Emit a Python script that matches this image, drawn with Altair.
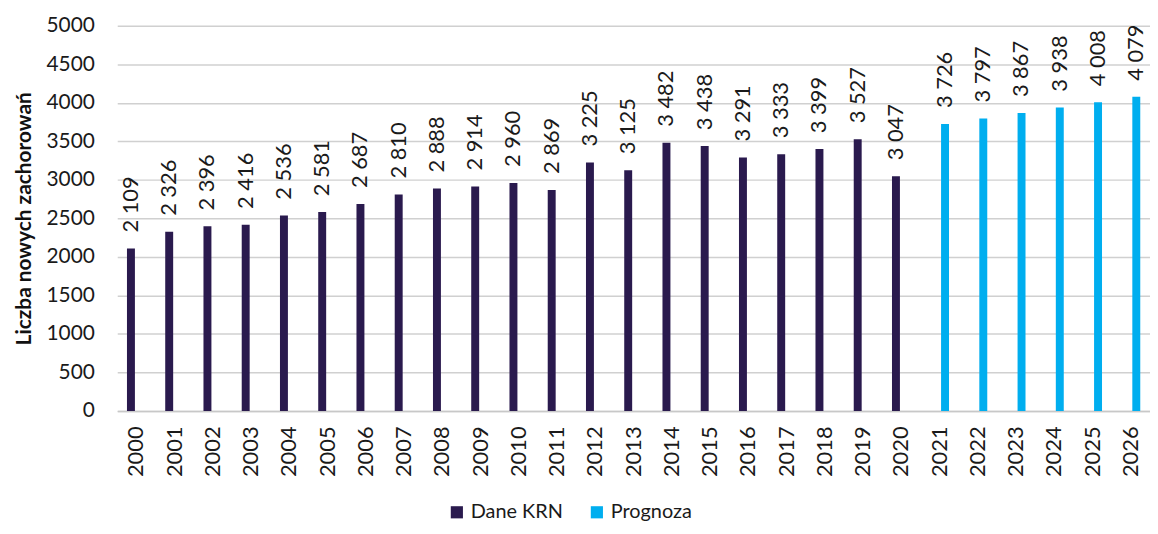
import altair as alt
import pandas as pd

years = [str(y) for y in range(2000, 2027)]
values = [2109, 2326, 2396, 2416, 2536, 2581, 2687, 2810, 2888, 2914, 2960, 2869,
          3225, 3125, 3482, 3438, 3291, 3333, 3399, 3527, 3047,
          3726, 3797, 3867, 3938, 4008, 4079]
series = ["Dane KRN"] * 21 + ["Prognoza"] * 6
series_names = ["Dane KRN", "Prognoza"]
colors = ["#2a1a4e", "#00aeef"]
y_ticks = list(range(0, 5001, 500))

df = pd.DataFrame({"rok": years, "wartosc": values, "seria": series})

FONT = "Lato"

x = alt.X("rok:N", title=None, sort=years,
          scale=alt.Scale(paddingInner=0, paddingOuter=0),
          axis=alt.Axis(labelAngle=-90, labelFontSize=22, labelColor="#1a1a1a",
                        labelPadding=15, ticks=False, domainColor="#c8c8c8",
                        domainWidth=1.5, labelFont=FONT, labelBaseline="middle",
                        labelAlign="right"))
xo = alt.XOffset("seria:N", sort=series_names,
                 scale=alt.Scale(domain=series_names, paddingInner=0.27, paddingOuter=0.9))
y = alt.Y("wartosc:Q", title="Liczba nowych zachorowań",
          scale=alt.Scale(domain=[0, 5000]),
          axis=alt.Axis(values=y_ticks, format="d", labelOverlap=False, tickCount=11,
                        labelFontSize=21, labelColor="#1a1a1a", labelPadding=23,
                        ticks=False, domain=False, gridColor="#d0d0d0", gridWidth=1.5,
                        titleFontSize=21, titleFontWeight="bold", titleColor="#111111",
                        titlePadding=12, labelFont=FONT, titleFont=FONT))

base = alt.Chart(df).encode(x=x, xOffset=xo, y=y)

bars = base.mark_bar().encode(
    color=alt.Color("seria:N", sort=series_names,
                    scale=alt.Scale(domain=series_names, range=colors),
                    legend=alt.Legend(title=None, orient="none", legendX=332, legendY=480,
                                      direction="horizontal", symbolType="square",
                                      symbolSize=150, labelFontSize=20, labelFont=FONT,
                                      labelColor="#1a1a1a", columnPadding=24,
                                      symbolStrokeWidth=0)),
)

labels = base.transform_calculate(
    lab="replace(format(datum.wartosc, ','), ',', ' ')"
).mark_text(angle=270, align="left", baseline="middle", dx=16, fontSize=22,
            font=FONT, color="#1a1a1a").encode(
    text="lab:N",
)

chart = alt.layer(bars, labels).properties(
    width=1040, height=388,
    autosize=alt.AutoSizeParams(type="none"),
    padding={"left": 110, "top": 16, "right": 0, "bottom": 118},
).configure_view(stroke=None).configure_bar(width=8)

chart.save("out.html", embed_options={"renderer": "svg", "actions": False})
